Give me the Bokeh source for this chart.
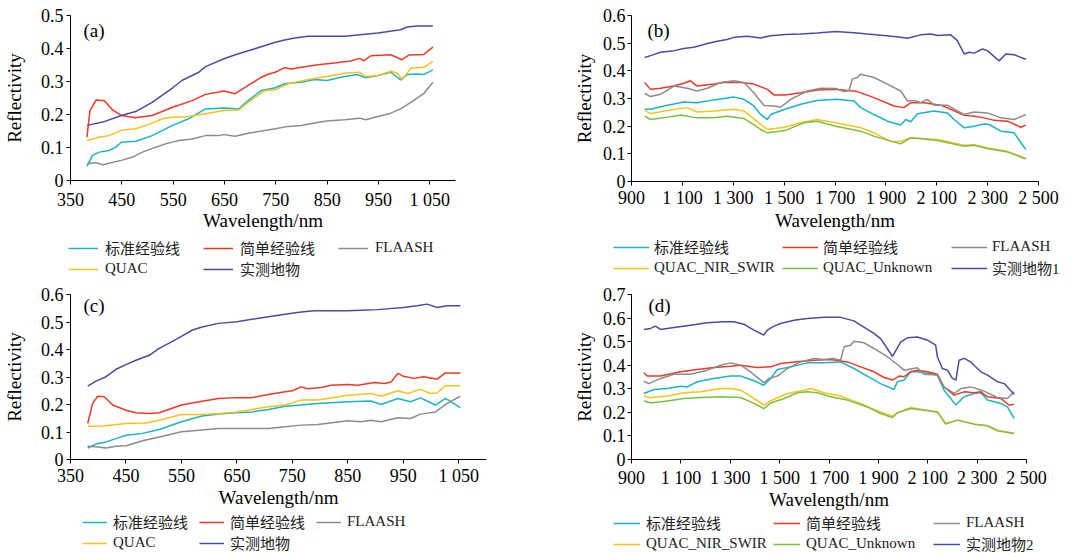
from bokeh.plotting import figure
from bokeh.layouts import column, row
from bokeh.models import Range1d, FixedTicker, Legend, LegendItem, Label
from bokeh.embed import file_html
from bokeh.resources import INLINE

# ---------------- labels ----------------
LBL_STD = "标准经验线"
LBL_SIMPLE = "简单经验线"
LBL_FLAASH = "FLAASH"
LBL_QUAC = "QUAC"
LBL_QNS = "QUAC_NIR_SWIR"
LBL_QU = "QUAC_Unknown"
LBL_MEAS = "实测地物"
LBL_MEAS1 = "实测地物1"
LBL_MEAS2 = "实测地物2"

VNIR_TICKS = [350, 450, 550, 650, 750, 850, 950, 1050]
VNIR_TICK_LABELS = ["350", "450", "550", "650", "750", "850", "950", "1 050"]
SWIR_TICKS = [900, 1100, 1300, 1500, 1700, 1900, 2100, 2300, 2500]
SWIR_TICK_LABELS = ["900", "1 100", "1 300", "1 500", "1 700", "1 900", "2 100", "2 300", "2 500"]

# ---------------- panel (a) ----------------
a_std_x = [382,393,406,425,438,449,477,509,549,580,613,649,678,696,722,749,767,800,825,849,884,909,925,949,974,993,1006,1025,1038,1056]
a_std_y = [0.043,0.076,0.086,0.091,0.101,0.116,0.119,0.136,0.167,0.187,0.217,0.220,0.217,0.242,0.273,0.281,0.293,0.298,0.306,0.303,0.315,0.321,0.311,0.318,0.328,0.305,0.321,0.323,0.321,0.335]
a_simple_x = [382,388,400,416,432,449,477,509,549,587,613,649,671,696,722,735,749,767,780,800,832,864,896,913,922,935,974,996,1009,1038,1056]
a_simple_y = [0.131,0.212,0.244,0.242,0.214,0.197,0.190,0.197,0.222,0.242,0.261,0.271,0.263,0.288,0.313,0.322,0.328,0.342,0.338,0.343,0.351,0.356,0.362,0.370,0.363,0.378,0.381,0.366,0.380,0.382,0.404]
a_flaash_x = [382,400,413,449,471,490,516,535,561,587,613,638,649,671,696,749,774,800,825,849,884,913,925,949,974,993,1013,1038,1056]
a_flaash_y = [0.051,0.054,0.048,0.061,0.071,0.086,0.101,0.111,0.121,0.126,0.136,0.136,0.139,0.134,0.143,0.157,0.164,0.167,0.174,0.180,0.184,0.189,0.184,0.194,0.204,0.217,0.237,0.263,0.298]
a_quac_x = [382,406,425,449,477,503,529,549,580,613,649,678,696,729,749,774,813,849,884,913,925,949,974,987,996,1013,1038,1056]
a_quac_y = [0.121,0.131,0.136,0.152,0.157,0.170,0.187,0.192,0.194,0.202,0.212,0.214,0.237,0.273,0.275,0.293,0.306,0.315,0.325,0.328,0.315,0.318,0.331,0.325,0.305,0.340,0.343,0.361]
a_meas_x = [382,413,449,477,509,549,567,600,613,649,671,709,749,767,787,813,849,884,909,949,993,1006,1025,1056]
a_meas_y = [0.167,0.177,0.197,0.209,0.237,0.281,0.303,0.328,0.345,0.369,0.381,0.399,0.419,0.426,0.432,0.437,0.437,0.437,0.441,0.447,0.457,0.465,0.468,0.468]

# ---------------- panel (b) ----------------
b_std_x = [952,975,1027,1106,1158,1224,1303,1342,1381,1408,1434,1447,1503,1565,1630,1703,1775,1801,1853,1906,1958,1978,1998,2024,2090,2142,2168,2208,2247,2286,2306,2352,2404,2450]
b_std_y = [0.261,0.261,0.273,0.287,0.285,0.295,0.305,0.297,0.273,0.242,0.224,0.242,0.261,0.279,0.293,0.297,0.291,0.267,0.242,0.218,0.204,0.224,0.216,0.245,0.255,0.248,0.224,0.194,0.200,0.208,0.206,0.182,0.176,0.115]
b_simple_x = [952,975,1014,1067,1106,1132,1158,1224,1263,1329,1381,1434,1460,1503,1565,1630,1703,1788,1853,1932,1971,1998,2050,2116,2155,2208,2247,2286,2326,2378,2431,2450]
b_simple_y = [0.358,0.333,0.337,0.345,0.355,0.364,0.345,0.352,0.358,0.358,0.352,0.333,0.313,0.313,0.321,0.331,0.333,0.325,0.303,0.273,0.267,0.285,0.285,0.276,0.261,0.239,0.236,0.230,0.221,0.218,0.196,0.204]
b_flaash_x = [952,975,1014,1067,1119,1158,1198,1250,1303,1342,1381,1421,1460,1486,1526,1591,1644,1703,1735,1755,1768,1788,1801,1853,1902,1958,1985,2011,2037,2063,2090,2142,2208,2247,2299,2352,2404,2450]
b_flaash_y = [0.318,0.307,0.315,0.345,0.337,0.327,0.337,0.358,0.364,0.358,0.321,0.275,0.273,0.269,0.297,0.327,0.337,0.336,0.325,0.329,0.370,0.376,0.388,0.376,0.354,0.327,0.291,0.293,0.285,0.297,0.276,0.276,0.242,0.251,0.248,0.230,0.224,0.242]
b_qns_x = [952,975,1027,1119,1158,1224,1303,1342,1408,1434,1503,1565,1630,1703,1801,1853,1919,1958,1998,2103,2208,2247,2299,2378,2450]
b_qns_y = [0.257,0.245,0.255,0.267,0.251,0.255,0.261,0.255,0.206,0.188,0.196,0.212,0.224,0.212,0.194,0.176,0.145,0.145,0.158,0.152,0.131,0.133,0.121,0.109,0.082]
b_qu_x = [952,975,1027,1093,1158,1224,1276,1342,1408,1434,1503,1578,1630,1703,1801,1853,1958,1998,2103,2208,2247,2299,2378,2450]
b_qu_y = [0.236,0.224,0.230,0.240,0.230,0.230,0.236,0.228,0.188,0.176,0.184,0.212,0.218,0.200,0.182,0.164,0.136,0.158,0.148,0.127,0.131,0.119,0.107,0.082]
b_meas_x = [952,975,1014,1067,1106,1145,1198,1237,1276,1303,1355,1408,1447,1503,1565,1630,1703,1788,1827,1902,1958,1985,2037,2076,2103,2155,2181,2208,2227,2247,2280,2299,2345,2372,2404,2450]
b_meas_y = [0.448,0.455,0.467,0.473,0.481,0.485,0.499,0.507,0.513,0.521,0.525,0.519,0.527,0.531,0.533,0.537,0.542,0.537,0.533,0.527,0.521,0.518,0.530,0.533,0.528,0.530,0.509,0.461,0.467,0.464,0.479,0.473,0.436,0.461,0.458,0.442]

# ---------------- panel (c) ----------------
c_std_x = [381,396,414,432,450,480,510,550,587,617,650,677,707,737,766,796,850,892,910,940,963,981,1008,1026,1053]
c_std_y = [0.042,0.056,0.064,0.076,0.088,0.095,0.109,0.137,0.158,0.165,0.170,0.173,0.182,0.194,0.198,0.204,0.210,0.213,0.200,0.222,0.210,0.224,0.198,0.222,0.189]
c_simple_x = [381,390,399,411,426,450,468,492,510,527,550,587,617,650,677,707,737,750,766,778,802,820,850,868,898,916,928,940,950,969,987,1011,1026,1053]
c_simple_y = [0.131,0.204,0.230,0.228,0.198,0.179,0.170,0.167,0.170,0.182,0.198,0.212,0.222,0.225,0.225,0.236,0.246,0.250,0.264,0.257,0.262,0.270,0.273,0.270,0.280,0.276,0.282,0.313,0.303,0.295,0.301,0.292,0.315,0.315]
c_flaash_x = [381,396,414,432,450,480,510,550,587,617,650,707,737,766,796,850,874,892,910,940,963,981,1008,1029,1053]
c_flaash_y = [0.048,0.046,0.042,0.048,0.050,0.068,0.082,0.101,0.107,0.113,0.113,0.113,0.119,0.125,0.127,0.141,0.137,0.143,0.137,0.152,0.149,0.165,0.173,0.204,0.230]
c_quac_x = [381,408,450,486,510,550,587,617,650,677,707,737,766,796,850,892,910,940,958,981,999,1011,1026,1053]
c_quac_y = [0.121,0.122,0.131,0.133,0.143,0.164,0.164,0.167,0.173,0.182,0.192,0.198,0.216,0.216,0.234,0.240,0.230,0.250,0.240,0.255,0.240,0.242,0.268,0.268]
c_meas_x = [381,396,414,432,450,468,492,510,527,550,569,587,617,650,677,707,737,766,790,850,874,904,950,975,993,1011,1029,1053]
c_meas_y = [0.267,0.285,0.301,0.328,0.345,0.361,0.379,0.404,0.422,0.448,0.470,0.482,0.495,0.501,0.510,0.519,0.528,0.536,0.541,0.541,0.543,0.545,0.553,0.559,0.565,0.553,0.559,0.559]

# ---------------- panel (d) ----------------
d_std_x = [950,991,1045,1099,1126,1166,1234,1301,1342,1396,1436,1464,1491,1545,1612,1680,1747,1801,1855,1909,1963,1977,2004,2031,2058,2099,2139,2166,2214,2247,2288,2315,2342,2396,2423,2450]
d_std_y = [0.280,0.297,0.301,0.311,0.308,0.330,0.344,0.354,0.354,0.334,0.315,0.344,0.382,0.393,0.410,0.410,0.414,0.386,0.354,0.322,0.297,0.330,0.337,0.372,0.372,0.365,0.358,0.294,0.231,0.266,0.280,0.283,0.252,0.238,0.223,0.174]
d_simple_x = [950,964,1018,1099,1166,1234,1301,1342,1409,1464,1504,1558,1639,1707,1774,1828,1882,1923,1957,1984,2004,2031,2058,2099,2139,2166,2207,2247,2288,2315,2342,2396,2430,2450]
d_simple_y = [0.368,0.354,0.354,0.372,0.382,0.390,0.396,0.400,0.390,0.393,0.407,0.414,0.421,0.424,0.414,0.393,0.372,0.348,0.337,0.354,0.351,0.372,0.379,0.372,0.362,0.308,0.273,0.287,0.283,0.287,0.266,0.259,0.230,0.235]
d_flaash_x = [950,970,1018,1072,1139,1207,1261,1301,1342,1382,1423,1436,1457,1491,1531,1585,1639,1680,1720,1747,1761,1788,1801,1842,1882,1936,1977,2004,2058,2085,2139,2166,2207,2234,2274,2328,2382,2423,2450]
d_flaash_y = [0.332,0.322,0.344,0.362,0.362,0.379,0.400,0.410,0.400,0.372,0.337,0.325,0.344,0.354,0.386,0.414,0.429,0.424,0.429,0.421,0.478,0.485,0.502,0.495,0.471,0.436,0.403,0.379,0.389,0.362,0.358,0.308,0.280,0.301,0.308,0.290,0.263,0.259,0.287]
d_qns_x = [950,977,1045,1112,1180,1261,1301,1342,1396,1436,1464,1531,1599,1626,1680,1747,1828,1882,1957,1977,2031,2139,2173,2220,2288,2342,2382,2450]
d_qns_y = [0.269,0.262,0.269,0.283,0.287,0.301,0.301,0.294,0.259,0.231,0.249,0.280,0.294,0.301,0.283,0.269,0.238,0.212,0.184,0.198,0.221,0.202,0.153,0.167,0.150,0.143,0.124,0.110]
d_qu_x = [950,977,1045,1112,1180,1261,1342,1396,1436,1464,1518,1572,1612,1653,1707,1774,1855,1909,1957,1977,2031,2139,2173,2220,2288,2342,2382,2450]
d_qu_y = [0.248,0.240,0.248,0.259,0.263,0.266,0.263,0.238,0.216,0.240,0.259,0.283,0.287,0.283,0.266,0.252,0.223,0.195,0.178,0.198,0.216,0.202,0.150,0.167,0.150,0.143,0.122,0.110]
d_meas_x = [950,977,997,1018,1072,1139,1207,1274,1315,1355,1396,1436,1450,1477,1504,1558,1612,1680,1747,1801,1828,1882,1909,1957,1991,2018,2058,2099,2132,2139,2159,2180,2200,2214,2227,2247,2274,2315,2342,2382,2410,2423,2450]
d_meas_y = [0.552,0.556,0.566,0.552,0.560,0.570,0.580,0.584,0.584,0.574,0.549,0.528,0.549,0.566,0.577,0.591,0.598,0.603,0.603,0.588,0.570,0.535,0.513,0.438,0.499,0.516,0.520,0.506,0.485,0.436,0.386,0.379,0.344,0.337,0.421,0.429,0.414,0.372,0.358,0.330,0.322,0.308,0.276]

# ---------------- styles ----------------
C_STD = "#1ab4c6"
C_SIMPLE = "#ec3a26"
C_FLAASH = "#8c8c8c"
C_QUAC = "#f7c21a"
C_QU = "#7dbf43"
C_MEAS = "#4b4d9c"

SERIF = "Liberation Serif"
MIXED = "Liberation Serif, Noto Sans CJK SC"


def make_panel(tag, series, xr, yr, xticks, xlabels, yticks, ylabels,
               width, height, mb, frame_h, xstand, xlab_stand, ystand, ylab_stand, tag_off):
    p = figure(width=width, height=height, output_backend="svg", toolbar_location=None,
               x_range=Range1d(*xr), y_range=Range1d(*yr),
               min_border_left=mb[0], min_border_right=mb[1],
               min_border_top=mb[2], min_border_bottom=mb[3])
    p.outline_line_color = None
    p.grid.visible = False
    p.background_fill_color = "white"
    p.border_fill_color = "white"

    for lbl, xs, ys, col in series:
        p.line(xs, ys, line_color=col, line_width=1.5)

    p.xaxis.ticker = FixedTicker(ticks=xticks)
    p.xaxis.major_label_overrides = {t: s for t, s in zip(xticks, xlabels)}
    p.yaxis.ticker = FixedTicker(ticks=yticks)
    p.yaxis.major_label_overrides = {t: s for t, s in zip(yticks, ylabels)}
    p.xaxis.axis_label = "Wavelength/nm"
    p.yaxis.axis_label = "Reflectivity"
    for ax in (p.xaxis[0], p.yaxis[0]):
        ax.major_tick_in = 0
        ax.major_tick_out = 4
        ax.minor_tick_in = 0
        ax.minor_tick_out = 0
        ax.axis_line_color = "black"
        ax.major_tick_line_color = "black"
        ax.major_label_text_font = SERIF
        ax.major_label_text_font_size = "18px"
        ax.major_label_text_color = "black"
        ax.axis_label_text_font = SERIF
        ax.axis_label_text_font_size = "19px"
        ax.axis_label_text_font_style = "normal"
        ax.axis_label_text_color = "black"
    p.xaxis.major_label_standoff = xstand
    p.xaxis.axis_label_standoff = xlab_stand
    p.yaxis.major_label_standoff = ystand
    p.yaxis.axis_label_standoff = ylab_stand

    p.add_layout(Label(x=tag_off[0], y=frame_h - tag_off[1], x_units="screen", y_units="screen",
                       text=tag, text_font=SERIF, text_font_size="19px",
                       text_baseline="middle", text_color="black"))
    return p


def make_legend(series, width, height, leg):
    # separate strip that only carries the legend; the series are drawn
    # out of its (empty) view so that only their legend glyphs show
    gw, gs, lw, lh, lx, ly = leg
    q = figure(width=width, height=height, output_backend="svg", toolbar_location=None,
               x_range=Range1d(0, 1), y_range=Range1d(10, 11),
               x_axis_type=None, y_axis_type=None, frame_align=False,
               min_border_left=0, min_border_right=0, min_border_top=0, min_border_bottom=0)
    q.outline_line_color = None
    q.grid.visible = False
    q.background_fill_color = "white"
    q.border_fill_color = "white"
    items = []
    for lbl, xs, ys, col in series:
        r = q.line(xs, ys, line_color=col, line_width=1.5)
        items.append(LegendItem(label=lbl, renderers=[r]))
    legend = Legend(items=items, location=(lx, ly), orientation="horizontal", ncols=3,
                    glyph_width=gw, glyph_height=lh, label_standoff=gs, label_width=lw,
                    label_height=lh, spacing=0, padding=0, margin=0,
                    border_line_color=None, background_fill_alpha=0,
                    label_text_font=MIXED, label_text_font_size="15px",
                    label_text_color="#222222")
    q.add_layout(legend)
    return q


sa = [(LBL_STD, a_std_x, a_std_y, C_STD), (LBL_SIMPLE, a_simple_x, a_simple_y, C_SIMPLE),
      (LBL_FLAASH, a_flaash_x, a_flaash_y, C_FLAASH), (LBL_QUAC, a_quac_x, a_quac_y, C_QUAC),
      (LBL_MEAS, a_meas_x, a_meas_y, C_MEAS)]
sb = [(LBL_STD, b_std_x, b_std_y, C_STD), (LBL_SIMPLE, b_simple_x, b_simple_y, C_SIMPLE),
      (LBL_FLAASH, b_flaash_x, b_flaash_y, C_FLAASH), (LBL_QNS, b_qns_x, b_qns_y, C_QUAC),
      (LBL_QU, b_qu_x, b_qu_y, C_QU), (LBL_MEAS1, b_meas_x, b_meas_y, C_MEAS)]
sc = [(LBL_STD, c_std_x, c_std_y, C_STD), (LBL_SIMPLE, c_simple_x, c_simple_y, C_SIMPLE),
      (LBL_FLAASH, c_flaash_x, c_flaash_y, C_FLAASH), (LBL_QUAC, c_quac_x, c_quac_y, C_QUAC),
      (LBL_MEAS, c_meas_x, c_meas_y, C_MEAS)]
sd = [(LBL_STD, d_std_x, d_std_y, C_STD), (LBL_SIMPLE, d_simple_x, d_simple_y, C_SIMPLE),
      (LBL_FLAASH, d_flaash_x, d_flaash_y, C_FLAASH), (LBL_QNS, d_qns_x, d_qns_y, C_QUAC),
      (LBL_QU, d_qu_x, d_qu_y, C_QU), (LBL_MEAS2, d_meas_x, d_meas_y, C_MEAS)]

Y5 = [0, 0.1, 0.2, 0.3, 0.4, 0.5]
Y6 = [0, 0.1, 0.2, 0.3, 0.4, 0.5, 0.6]
Y7 = [0, 0.1, 0.2, 0.3, 0.4, 0.5, 0.6, 0.7]
Y5L = ["0", "0.1", "0.2", "0.3", "0.4", "0.5"]
Y6L = ["0", "0.1", "0.2", "0.3", "0.4", "0.5", "0.6"]
Y7L = ["0", "0.1", "0.2", "0.3", "0.4", "0.5", "0.6", "0.7"]

pa = make_panel("(a)", sa, (350, 1100), (0, 0.5), VNIR_TICKS, VNIR_TICK_LABELS, Y5, Y5L,
                540, 236, (68, 85, 15, 56), 165, 5, -3, 3, 13, (13, 15))
la = make_legend(sa, 540, 44, (30, 7, 98, 20, 68, 1))

pb = make_panel("(b)", sb, (900, 2500), (0, 0.6), SWIR_TICKS, SWIR_TICK_LABELS, Y6, Y6L,
                540, 236, (91, 42, 15, 55), 166, 2, -1, 2, 5, (16, 15))
lb = make_legend(sb, 540, 44, (36, 5, 128, 20, 73, 2))

pc = make_panel("(c)", sc, (350, 1100), (0, 0.6), VNIR_TICKS, VNIR_TICK_LABELS, Y6, Y6L,
                540, 232, (68, 54, 14, 53), 165, 2, -2, 3, 13, (13, 11))
lc = make_legend(sc, 540, 41, (25, 6, 86, 20, 82, 0))

pd = make_panel("(d)", sd, (900, 2500), (0, 0.7), SWIR_TICKS, SWIR_TICK_LABELS, Y7, Y7L,
                540, 232, (91, 54, 14, 53), 165, 4, -2, 2, 5, (17, 11))
ld = make_legend(sd, 540, 41, (27, 6, 127, 20, 73, -1))

layout = column(row(column(pa, la), column(pb, lb)), row(column(pc, lc), column(pd, ld)))
open("out.html", "w").write(file_html(layout, INLINE))
